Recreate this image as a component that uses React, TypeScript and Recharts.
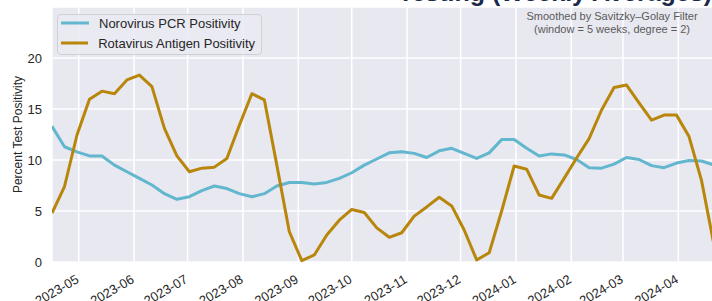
import React from 'react';
import { LineChart, Line, XAxis, YAxis, CartesianGrid, Legend } from 'recharts';

const weekDates = [
  '2023-04-16', '2023-04-23', '2023-04-30', '2023-05-07', '2023-05-14', '2023-05-21', '2023-05-28',
  '2023-06-04', '2023-06-11', '2023-06-18', '2023-06-25', '2023-07-02', '2023-07-09', '2023-07-16',
  '2023-07-23', '2023-07-30', '2023-08-06', '2023-08-13', '2023-08-20', '2023-08-27', '2023-09-03',
  '2023-09-10', '2023-09-17', '2023-09-24', '2023-10-01', '2023-10-08', '2023-10-15', '2023-10-22',
  '2023-10-29', '2023-11-05', '2023-11-12', '2023-11-19', '2023-11-26', '2023-12-03', '2023-12-10',
  '2023-12-17', '2023-12-24', '2023-12-31', '2024-01-07', '2024-01-14', '2024-01-21', '2024-01-28',
  '2024-02-04', '2024-02-11', '2024-02-18', '2024-02-25', '2024-03-03', '2024-03-10', '2024-03-17',
  '2024-03-24', '2024-03-31', '2024-04-07', '2024-04-14', '2024-04-21',
];

const norovirusPCR = [
  13.3, 11.3, 10.8, 10.4, 10.4, 9.5, 8.85, 8.2, 7.55, 6.7, 6.15, 6.4, 7.0, 7.45,
  7.2, 6.7, 6.4, 6.7, 7.45, 7.8, 7.8, 7.65, 7.8, 8.2, 8.75, 9.5, 10.1, 10.7,
  10.8, 10.65, 10.25, 10.9, 11.15, 10.65, 10.15, 10.7, 12.0, 12.0, 11.15, 10.4, 10.6, 10.5,
  10.05, 9.25, 9.2, 9.6, 10.25, 10.05, 9.45, 9.25, 9.7, 9.95, 9.9, 9.5,
];

const rotavirusAntigen = [
  4.8, 7.4, 12.45, 15.95, 16.75, 16.5, 17.85, 18.33, 17.2, 13.1, 10.4, 8.85, 9.2, 9.3,
  10.15, 13.4, 16.5, 15.9, 9.5, 2.97, 0.13, 0.69, 2.65, 4.1, 5.15, 4.85, 3.35, 2.42,
  2.87, 4.5, 5.4, 6.35, 5.5, 3.14, 0.2, 0.9, 5.0, 9.41, 9.1, 6.57, 6.24, 8.2,
  10.2, 12.1, 14.9, 17.1, 17.35, 15.6, 13.9, 14.4, 14.4, 12.3, 8.0, 1.67,
];

const monthTickLabels = [
  '2023-05', '2023-06', '2023-07', '2023-08', '2023-09', '2023-10',
  '2023-11', '2023-12', '2024-01', '2024-02', '2024-03', '2024-04',
];

const yTicks = [0, 5, 10, 15, 20];

const seriesNames = ['Norovirus PCR Positivity', 'Rotavirus Antigen Positivity'];
const seriesColors = ['#62B6CE', '#B8860B'];

const chartTitle = 'Testing (Weekly Averages)';
const noteLines = ['Smoothed by Savitzky\u2013Golay Filter', '(window = 5 weeks, degree = 2)'];

const data = weekDates.map((d, i) => ({
  t: Date.parse(d + 'T00:00:00Z'),
  noro: norovirusPCR[i],
  rota: rotavirusAntigen[i],
}));

const monthTicks = monthTickLabels.map((m) => Date.parse(m + '-01T00:00:00Z'));

const FONT = '"Liberation Sans", Arial, Helvetica, sans-serif';
const TEXT = '#262626';

const XTick = (props: any) => {
  const { x, y, payload } = props;
  const idx = monthTicks.indexOf(payload.value);
  const label = idx >= 0 ? monthTickLabels[idx] : '';
  return (
    <g transform={`translate(${x + 1},${y})`}>
      <text transform="rotate(-30)" textAnchor="end" fontSize={13} fill={TEXT} fontFamily={FONT}>
        {label}
      </text>
    </g>
  );
};

const LegendBox = () => (
  <div
    style={{
      border: '1px solid #CFCFD6',
      borderRadius: 4,
      background: 'rgba(234,234,242,0.85)',
      padding: '0px 6px 3px 3px',
      fontFamily: FONT,
      fontSize: 13,
      color: TEXT,
      boxSizing: 'border-box',
      width: 205,
    }}
  >
    {seriesNames.map((n, i) => (
      <div
        key={n}
        style={{ display: 'flex', alignItems: 'center', height: 16, marginTop: i === 0 ? 0 : 4, whiteSpace: 'nowrap' }}
      >
        <svg width={28} height={4} style={{ marginRight: 10 }}>
          <line x1={0} y1={2} x2={28} y2={2} stroke={seriesColors[i]} strokeWidth={3} />
        </svg>
        <span>{n}</span>
      </div>
    ))}
  </div>
);

export default function App() {
  return (
    <div
      style={{
        position: 'absolute',
        left: 0,
        top: 0,
        width: 712,
        height: 301,
        overflow: 'hidden',
        background: '#fff',
      }}
    >
      <LineChart
        width={720}
        height={301}
        data={data}
        margin={{ top: 7, right: 6, bottom: 0, left: 0 }}
      >
        <CartesianGrid stroke="#ffffff" strokeWidth={1.5} fill="#E8E8F0" fillOpacity={1} />
        <XAxis
          dataKey="t"
          type="number"
          domain={[data[0].t, data[data.length - 1].t]}
          ticks={monthTicks}
          tick={<XTick />}
          tickSize={0}
          tickMargin={20}
          axisLine={false}
          tickLine={false}
          height={39}
          interval={0}
          allowDataOverflow
        />
        <YAxis
          type="number"
          domain={[0, 25]}
          ticks={yTicks}
          width={52}
          tickSize={0}
          tickMargin={10}
          axisLine={false}
          tickLine={false}
          interval={0}
          tick={{ fontSize: 13, fill: TEXT, fontFamily: FONT }}
          label={{
            content: (p: any) => {
              const vb = p.viewBox || { x: 0, y: 7, width: 52, height: 255 };
              const cx = vb.x + 22;
              const cy = vb.y + vb.height / 2;
              return (
                <text
                  x={cx}
                  y={cy}
                  transform={`rotate(-90, ${cx}, ${cy})`}
                  textAnchor="middle"
                  fontSize={12}
                  fill={TEXT}
                  fontFamily={FONT}
                >
                  Percent Test Positivity
                </text>
              );
            },
          }}
        />
        <Legend
          layout="horizontal"
          verticalAlign="middle"
          align="center"
          wrapperStyle={{ position: 'absolute', left: 57, top: 14, width: 'auto', height: 'auto' }}
          content={<LegendBox />}
        />
        <Line
          type="linear"
          dataKey="noro"
          name={seriesNames[0]}
          stroke={seriesColors[0]}
          strokeWidth={3}
          dot={false}
          activeDot={false}
          strokeLinejoin="round"
          isAnimationActive={false}
        />
        <Line
          type="linear"
          dataKey="rota"
          name={seriesNames[1]}
          stroke={seriesColors[1]}
          strokeWidth={3}
          dot={false}
          activeDot={false}
          strokeLinejoin="round"
          isAnimationActive={false}
        />
      </LineChart>
      <svg
        width={712}
        height={301}
        style={{ position: 'absolute', left: 0, top: 0, pointerEvents: 'none' }}
      >
        <text x={712} y={0.5} textAnchor="end" fontSize={25} fontWeight="bold" fill="#1B2A4A" fontFamily={FONT}>
          {chartTitle}
        </text>
        <text x={612} y={20} textAnchor="middle" fontSize={11} fill="#5A5A5A" fontFamily={FONT}>
          {noteLines[0]}
        </text>
        <text x={612} y={32.5} textAnchor="middle" fontSize={11} fill="#5A5A5A" fontFamily={FONT}>
          {noteLines[1]}
        </text>
      </svg>
    </div>
  );
}
